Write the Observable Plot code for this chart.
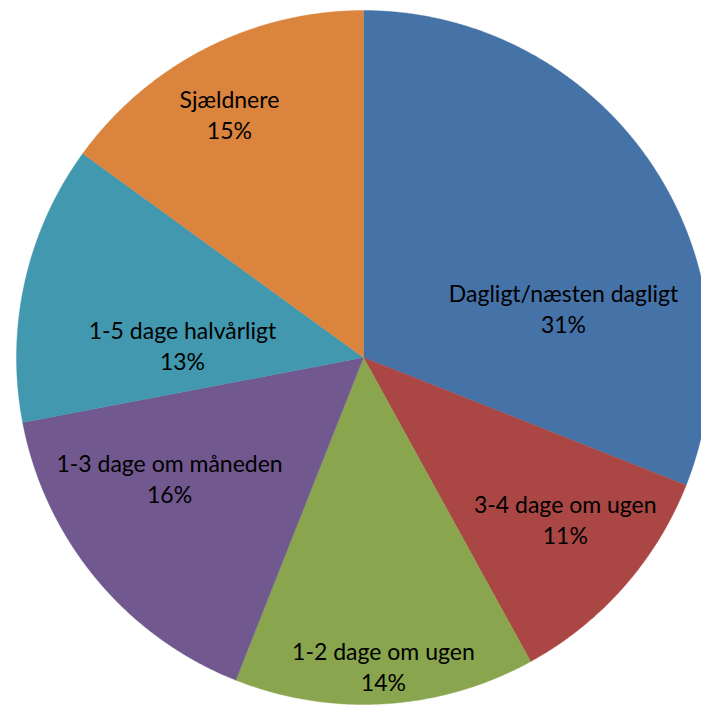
<!DOCTYPE html>
<html>
<head>
<meta charset="utf-8">
<script src="https://cdn.jsdelivr.net/npm/d3@7"></script>
<script src="https://cdn.jsdelivr.net/npm/@observablehq/plot@0.6"></script>
<style>
  html, body { margin: 0; padding: 0; background: #ffffff; overflow: hidden; }
  #chart svg { display: block; }
</style>
</head>
<body>
<div id="chart"></div>
<script>
// ---- data ----
const categories = ["Dagligt/næsten dagligt", "3-4 dage om ugen", "1-2 dage om ugen", "1-3 dage om måneden", "1-5 dage halvårligt", "Sjældnere"];
const values = [31, 11, 14, 16, 13, 15];
const colors = ["#4572A7", "#AA4643", "#89A54E", "#71588F", "#4198AF", "#DB843D"];
// label placement (Excel "best fit"): angle in degrees clockwise from top, radius as fraction of pie radius
const labelAngle = [76, 128.6, 176.3, 238.3, 274.1, 331.2];
const labelRadius = [0.594, 0.744, 0.889, 0.657, 0.523, 0.802];

// ---- build slice outlines from the data (unit-radius pie) ----
const total = d3.sum(values);
const slicePts = [];
let cum = 0;
values.forEach((v, i) => {
  const a0 = cum / total * 2 * Math.PI;
  cum += v;
  const a1 = cum / total * 2 * Math.PI;
  const n = Math.max(2, Math.ceil((a1 - a0) / (Math.PI / 720)));
  slicePts.push({name: categories[i], x: 0, y: 0});
  for (let k = 0; k <= n; k++) {
    const t = a0 + (a1 - a0) * k / n;
    slicePts.push({name: categories[i], x: Math.sin(t), y: Math.cos(t)});
  }
  slicePts.push({name: categories[i], x: 0, y: 0});
});

const labels = categories.map((c, i) => {
  const t = labelAngle[i] * Math.PI / 180;
  return {name: c, text: c + "\n" + values[i] + "%", x: labelRadius[i] * Math.sin(t), y: labelRadius[i] * Math.cos(t)};
});

const W = 701, H = 705, R = 347, CX = 363, CY = 357;

const chart = Plot.plot({
  width: W,
  height: H,
  margin: 0,
  style: {background: "#ffffff", fontFamily: "Lato, 'Open Sans', sans-serif"},
  x: {domain: [-CX / R, (W - CX) / R], axis: null},
  y: {domain: [-(H - CY) / R, CY / R], axis: null},
  color: {domain: categories, range: colors},
  marks: [
    Plot.line(slicePts, {x: "x", y: "y", z: "name", fill: "name", stroke: "name", strokeWidth: 0.4, curve: "linear"}),
    Plot.text(labels, {x: "x", y: "y", text: "text", fill: "#000000", fontSize: 23, lineHeight: 1.35, textAnchor: "middle", lineAnchor: "middle"})
  ]
});
document.getElementById("chart").appendChild(chart);
</script>
</body>
</html>
